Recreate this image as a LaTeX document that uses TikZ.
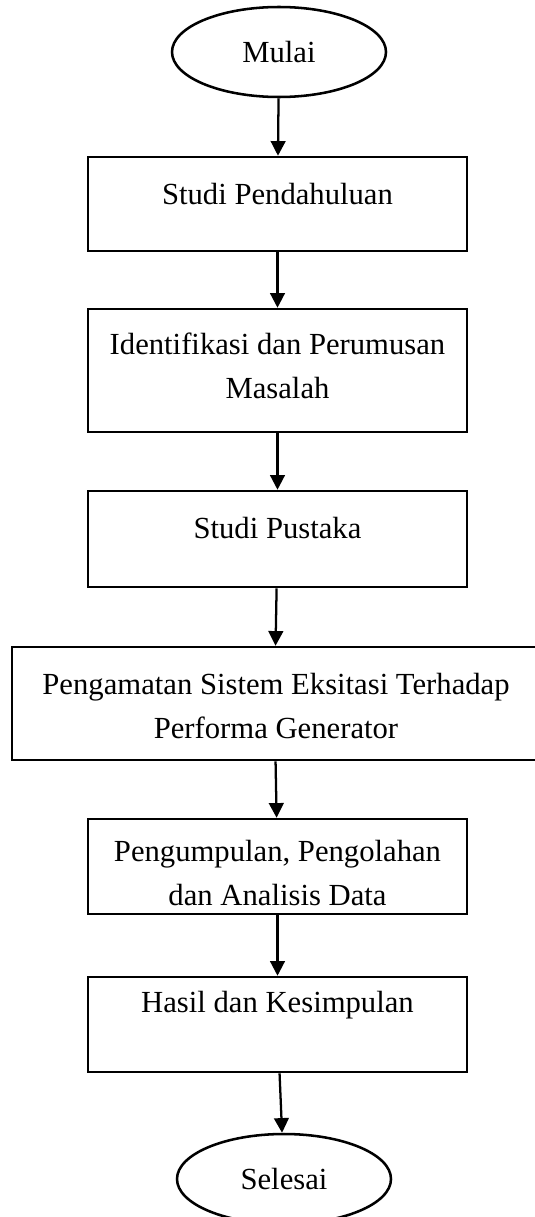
\documentclass[tikz,border=0pt]{standalone}
\usepackage{fontspec}
\setmainfont{Liberation Serif}
\usetikzlibrary{shapes.geometric,arrows.meta}
\tikzset{
	kotak/.style={draw, line width=1.9pt, rectangle, inner sep=0pt, minimum width=284.25pt},
	oval/.style={draw, line width=1.9pt, ellipse, inner sep=0pt, minimum width=160.5pt, minimum height=67.5pt, font=\fontsize{23}{33}\selectfont},
	teks/.style={font=\fontsize{23}{33}\selectfont, align=center, inner sep=0pt},
	panah/.style={line width=1.7pt, -{Triangle[length=11pt,width=11pt]}}
}
\begin{document}
\begin{tikzpicture}[x=0.75pt,y=-0.75pt]
			\useasboundingbox (0,0) rectangle (535,1217);
			\node[oval] (mulai) at (279,52) {Mulai};
			\node[kotak, minimum height=70.5pt] (studi) at (277.5,204) {};
			\node[kotak, minimum height=92.25pt] (identifikasi) at (277.5,370.5) {};
			\node[kotak, minimum height=72pt] (pustaka) at (277.5,539) {};
			\node[kotak, minimum width=393.75pt, minimum height=84.75pt] (pengamatan) at (274.5,703.5) {};
			\node[kotak, minimum height=71.25pt] (pengumpulan) at (277.5,866.5) {};
			\node[kotak, minimum height=71.25pt] (hasil) at (277.5,1024.5) {};
			\node[oval] (selesai) at (284,1179) {Selesai};
			\node[teks, anchor=base] (tstudi) at (277.5,204) {Studi Pendahuluan};
			\node[teks] (tidentifikasi) at (277.5,365.5) {Identifikasi dan Perumusan\\Masalah};
			\node[teks, anchor=base] (tpustaka) at (277.5,538) {Studi Pustaka};
			\node[teks] (tpengamatan) at (276,706) {Pengamatan Sistem Eksitasi Terhadap\\Performa Generator};
			\node[teks] (tpengumpulan) at (277.5,873) {Pengumpulan, Pengolahan\\dan Analisis Data};
			\node[teks, anchor=base] (thasil) at (277.5,1012) {Hasil dan Kesimpulan};
			\foreach \a/\b in {mulai/studi,studi/identifikasi,identifikasi/pustaka,pustaka/pengamatan,pengamatan/pengumpulan,pengumpulan/hasil,hasil/selesai}
				\draw[panah] (\a) -- (\b);
		\end{tikzpicture}
\end{document}
